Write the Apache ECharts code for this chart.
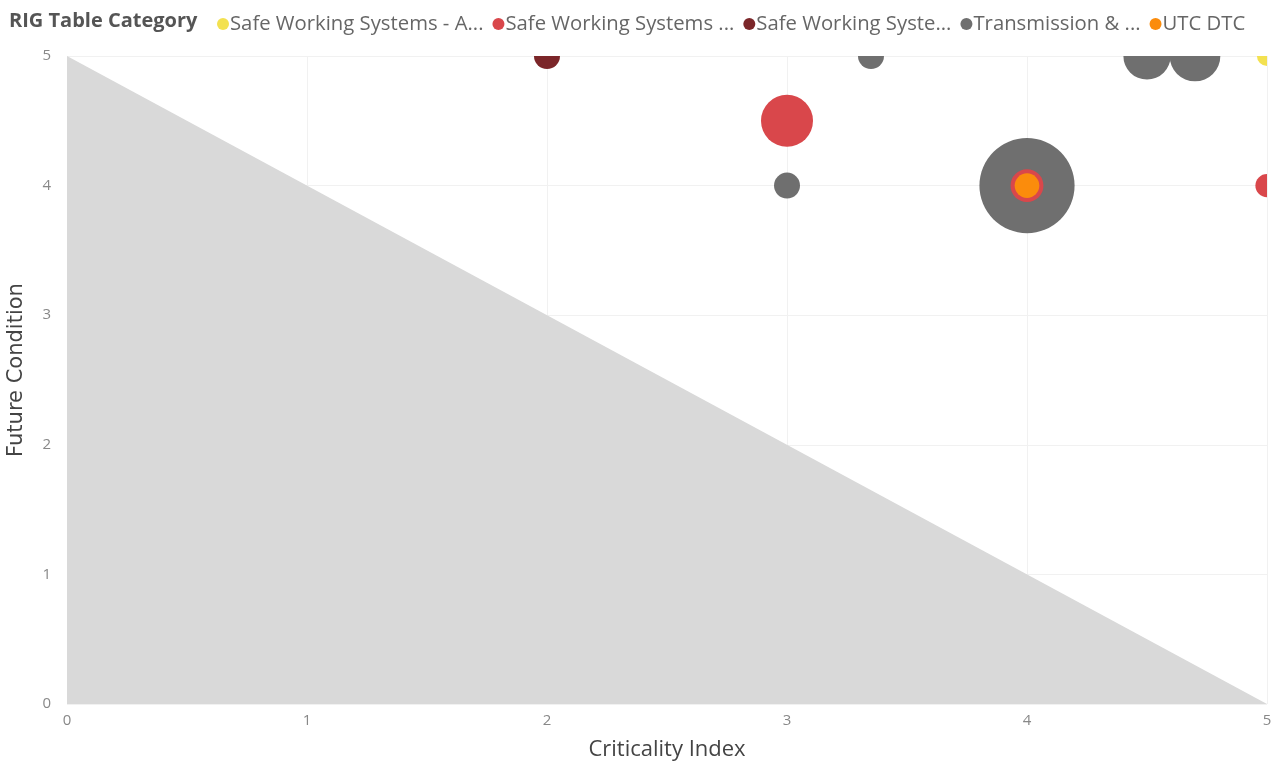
<!DOCTYPE html>
<html>
<head>
<meta charset="utf-8">
<title>RIG Table Category</title>
<script src="https://cdn.jsdelivr.net/npm/echarts@6/dist/echarts.min.js"></script>
<style>
  html, body { margin: 0; padding: 0; background: #fff; }
  #chart { width: 1283px; height: 767px; }
</style>
</head>
<body>
<div id="chart"></div>
<script>
// Bubble points: [criticality index, future condition, weight]
const seriesNames = [
  'Safe Working Systems - A...',
  'Safe Working Systems ...',
  'Safe Working Syste...',
  'Transmission & ...',
  'UTC DTC'
];
const seriesColors = ['#f3e150', '#d9474b', '#7b2629', '#6f6f6f', '#fb8c0c'];
const safeWorkingA = [[5, 5, 0.6]];
const safeWorkingB = [[3, 4.5, 4], [4, 4, 1.6], [5, 4, 0.8]];
const safeWorkingC = [[2, 5, 1]];
const transmission = [[3.35, 5, 1], [3, 4, 1], [4, 4, 13.4], [4.5, 5, 3.3], [4.7, 5, 3.8]];
const utcDtc = [[4, 4, 0.9]];
const seriesData = [safeWorkingA, safeWorkingB, safeWorkingC, transmission, utcDtc];
// draw order so that smaller bubbles sit on top of the large grey one
const seriesZ = [5, 4, 5, 3, 6];

// Shaded region under the line from (0,5) to (5,0)
const thresholdLine = [[0, 5], [5, 0]];

const axisTicks = [0, 1, 2, 3, 4, 5];

const chart = echarts.init(document.getElementById('chart'), null, { renderer: 'canvas' });

// Bubbles are drawn as circles whose area follows the weight, clipped to the plot
const bubbleSeries = seriesNames.map((name, i) => ({
  name: name,
  type: 'custom',
  data: seriesData[i],
  clip: true,
  z: seriesZ[i],
  encode: { x: 0, y: 1 },
  itemStyle: { color: seriesColors[i] },
  renderItem: (params, api) => {
    const p = api.coord([api.value(0), api.value(1)]);
    const r = 13 * Math.sqrt(api.value(2));
    return {
      type: 'circle',
      shape: { cx: p[0], cy: p[1], r: r },
      style: { fill: seriesColors[i] }
    };
  }
}));

chart.setOption({
  animation: false,
  color: seriesColors,
  textStyle: { fontFamily: '"Open Sans", "DejaVu Sans", sans-serif' },
  title: {
    text: 'RIG Table Category',
    left: 4,
    top: 6,
    textStyle: { fontSize: 20, fontWeight: 'bold', color: '#555', fontFamily: '"Open Sans", sans-serif' }
  },
  legend: {
    data: seriesNames,
    left: 212,
    top: 9,
    icon: 'circle',
    itemWidth: 12,
    itemHeight: 12,
    itemGap: 9,
    textStyle: { fontSize: 20.3, color: '#666', padding: [0, 0, 0, -4] }
  },
  grid: { left: 67, right: 16, top: 56, bottom: 63, containLabel: false, outerBoundsMode: 'none' },
  xAxis: {
    type: 'value',
    min: axisTicks[0],
    max: axisTicks[axisTicks.length - 1],
    interval: 1,
    name: 'Criticality Index',
    nameLocation: 'middle',
    nameGap: 35,
    nameTextStyle: { fontSize: 22, color: '#444' },
    axisLine: { show: false },
    axisTick: { show: false },
    axisLabel: { color: '#888', fontSize: 15, margin: 9 },
    splitLine: { show: true, lineStyle: { color: '#f1f1f1', width: 1 } }
  },
  yAxis: {
    type: 'value',
    min: axisTicks[0],
    max: axisTicks[axisTicks.length - 1],
    interval: 1,
    name: 'Future Condition',
    nameLocation: 'middle',
    nameGap: 40,
    nameRotate: 90,
    nameTextStyle: { fontSize: 21, color: '#444', fontFamily: '"DejaVu Sans", sans-serif', padding: [0, 0, 0, 20] },
    axisLine: { show: false },
    axisTick: { show: false },
    axisLabel: { color: '#888', fontSize: 15, margin: 16 },
    splitLine: { show: true, lineStyle: { color: '#f1f1f1', width: 1 } }
  },
  series: [
    {
      name: 'threshold',
      type: 'line',
      data: thresholdLine,
      symbol: 'none',
      silent: true,
      z: 1,
      lineStyle: { width: 0 },
      areaStyle: { color: '#d9d9d9', opacity: 1 }
    },
    ...bubbleSeries
  ]
});
</script>
</body>
</html>
